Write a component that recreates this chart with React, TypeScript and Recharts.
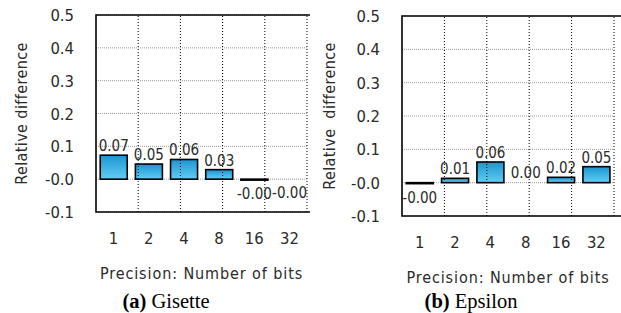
import React from 'react';
import { BarChart, Bar, XAxis, YAxis, CartesianGrid, ReferenceLine, ReferenceArea, LabelList } from 'recharts';

const bits = ['1', '2', '4', '8', '16', '32'];
const gisette = [0.073, 0.046, 0.06, 0.029, -0.003, -0.001];
const epsilon = [-0.003, 0.013, 0.062, 0.001, 0.016, 0.048];
const yTicks = [-0.1, 0, 0.1, 0.2, 0.3, 0.4, 0.5];
const boundaries = [1, 2, 3, 4, 5];

const FONT = '"DejaVu Sans Condensed", "DejaVu Sans", sans-serif';
const TXT = '#2a2a2a';

const fmtY = (v: number) => (Math.abs(v) < 1e-9 ? '-0.0' : v.toFixed(1));

function BarShape(props: any) {
  const { x, y, width, height, gid } = props;
  const top = Math.min(y, y + height);
  const h = Math.abs(height);
  if (h < 0.5) return null;
  return <rect x={x} y={top} width={width} height={h} fill={`url(#${gid})`} stroke="#000" strokeWidth={1.6} />;
}

function ValueLabel(props: any) {
  const { x, y, width, height, value } = props;
  const top = Math.min(y, y + height);
  const bottom = Math.max(y, y + height);
  const cx = x + width / 2;
  const neg = value < 0;
  return (
    <text
      x={cx}
      y={neg ? bottom + 19 : top - 4}
      textAnchor="middle"
      fontFamily={FONT}
      fontSize={15}
      fill={TXT}
    >
      {value.toFixed(2)}
    </text>
  );
}

function XTick(props: any) {
  const { x, y, payload } = props;
  return (
    <text x={x} y={y + 12} textAnchor="middle" fontFamily={FONT} fontSize={16.5} fill={TXT}>
      {payload.value}
    </text>
  );
}

function YTick(props: any) {
  const { x, y, payload } = props;
  return (
    <text x={x} y={y + 6} textAnchor="end" fontFamily={FONT} fontSize={16.5} fill={TXT}>
      {fmtY(payload.value)}
    </text>
  );
}

type PanelProps = {
  values: number[];
  gid: string;
  width: number;
  height: number;
  margin: { top: number; right: number; left: number; bottom: number };
  yAxisWidth: number;
  yLabel: string;
  yLabelX: number;
};

function Panel({ values, gid, width, height, margin, yAxisWidth, yLabel, yLabelX }: PanelProps) {
  const data = bits.map((b, i) => ({ bits: b, value: values[i] }));
  return (
    <BarChart width={width} height={height} data={data} margin={margin} barCategoryGap="12%">
      <defs>
        <linearGradient id={gid} x1="0" y1="0" x2="0" y2="1">
          <stop offset="0%" stopColor="#1b96d0" />
          <stop offset="100%" stopColor="#62cdf5" />
        </linearGradient>
      </defs>
      <CartesianGrid vertical={false} stroke="#9a9a9a" strokeDasharray="1 1" xAxisId="cat" />
      <XAxis
        xAxisId="cat"
        dataKey="bits"
        axisLine={false}
        tickLine={false}
        tickSize={0}
        tickMargin={20}
        height={70}
        interval={0}
        tick={<XTick />}
        label={{
          content: (p: any) => {
            const vb = p.viewBox;
            return (
              <text
                x={vb.x + vb.width / 2}
                y={vb.y + 67}
                textAnchor="middle"
                fontFamily={FONT}
                fontSize={16}
                letterSpacing={0.9}
                fill={TXT}
              >
                Precision: Number of bits
              </text>
            );
          },
        }}
      />
      <XAxis xAxisId="num" type="number" domain={[0, 6]} hide />
      <YAxis
        domain={[-0.1, 0.5]}
        ticks={yTicks}
        width={yAxisWidth}
        axisLine={false}
        tickLine={false}
        tickSize={0}
        tickMargin={22}
        tick={<YTick />}
        label={{
          content: (p: any) => {
            const vb = p.viewBox;
            const cx = vb.x + yLabelX;
            const cy = vb.y + vb.height / 2;
            return (
              <text
                x={cx}
                y={cy}
                transform={`rotate(-90, ${cx}, ${cy})`}
                textAnchor="middle"
                dominantBaseline="central"
                fontFamily={FONT}
                fontSize={16}
                letterSpacing={0.4}
                fill={TXT}
              >
                {yLabel}
              </text>
            );
          },
        }}
      />
      {boundaries.map((b) => (
        <ReferenceLine key={b} x={b} xAxisId="num" stroke="#000" strokeDasharray="1 2" strokeWidth={1} />
      ))}
      <Bar
        dataKey="value"
        xAxisId="cat"
        isAnimationActive={false}
        shape={(p: any) => <BarShape {...p} gid={gid} />}
      >
        <LabelList dataKey="value" content={(p: any) => <ValueLabel {...p} />} />
      </Bar>
      <ReferenceArea
        xAxisId="num"
        x1={0}
        x2={6}
        y1={-0.1}
        y2={0.5}
        fill="none"
        fillOpacity={0}
        stroke="#000"
        strokeWidth={1.6}
        ifOverflow="visible"
      />
    </BarChart>
  );
}

const captionStyle: React.CSSProperties = {
  position: 'absolute',
  top: 289,
  lineHeight: '24px',
  fontFamily: '"Liberation Serif", "Times New Roman", serif',
  fontSize: 20.5,
  color: '#000',
  whiteSpace: 'nowrap',
  transform: 'translateX(-50%)',
};

export default function App() {
  return (
    <div style={{ position: 'absolute', left: 0, top: 0, width: 621, height: 313, background: '#fff', overflow: 'hidden' }}>
      <div style={{ position: 'absolute', left: 0, top: 0 }}>
        <Panel
          values={gisette}
          gid="gradA"
          width={310}
          height={282}
          margin={{ top: 15, right: 3, left: 0, bottom: 0 }}
          yAxisWidth={96}
          yLabel="Relative difference"
          yLabelX={21.5}
        />
      </div>
      <div style={{ position: 'absolute', left: 310, top: 0 }}>
        <Panel
          values={epsilon}
          gid="gradB"
          width={311}
          height={286}
          margin={{ top: 16, right: 7, left: 0, bottom: 0 }}
          yAxisWidth={92}
          yLabel={'Relative\u00a0\u00a0difference'}
          yLabelX={19.5}
        />
      </div>
      <div style={{ ...captionStyle, left: 166 }}>
        <b>(a)</b> Gisette
      </div>
      <div style={{ ...captionStyle, left: 471 }}>
        <b>(b)</b> Epsilon
      </div>
    </div>
  );
}
